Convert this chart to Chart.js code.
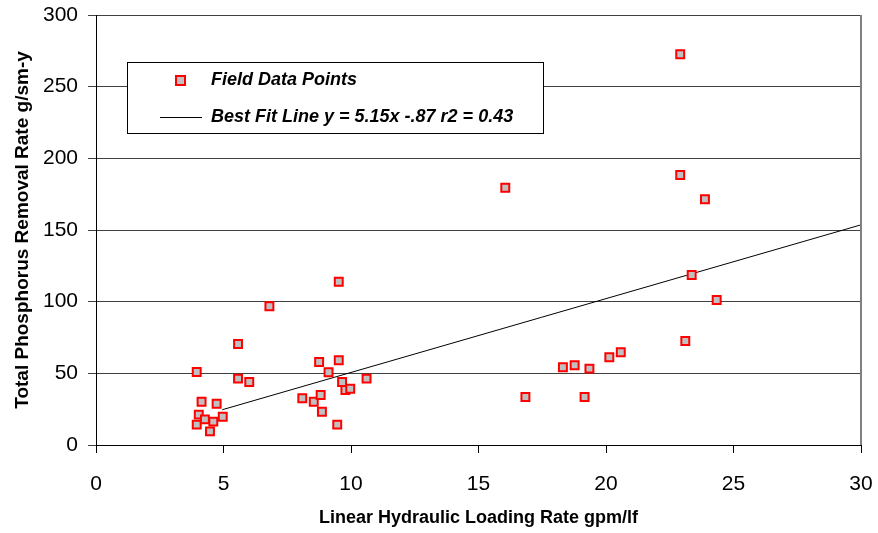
<!DOCTYPE html>
<html>
<head>
<meta charset="utf-8">
<script src="https://cdn.jsdelivr.net/npm/chart.js@4"></script>
<style>
  html, body { margin: 0; padding: 0; background: #fff; }
  #wrap { width: 878px; height: 533px; }
</style>
</head>
<body>
<div id="wrap"><canvas id="chart"></canvas></div>
<script>
// field measurements (x = loading rate gpm/lf, y = TP removal g/sm-y)
const fieldX = [3.95, 4.03, 4.14, 4.27, 4.47, 4.6, 4.73, 4.97, 3.95, 5.57, 5.57, 6.01, 6.8,
                8.09, 8.54, 8.75, 8.81, 8.86, 9.12, 9.46, 9.52, 9.52, 9.65, 9.78, 9.97, 10.61,
                16.05, 16.84, 18.31, 18.77, 19.16, 19.35, 20.13, 20.58,
                22.91, 22.91, 23.11, 23.36, 23.88, 24.34];
const fieldY = [14.2, 21.2, 30.2, 17.9, 9.5, 16.3, 28.8, 19.7, 50.9, 70.5, 46.3, 44, 96.8,
                32.6, 30.2, 57.9, 34.9, 23.2, 50.7, 14.2, 113.9, 59.1, 44, 38.4, 39.3, 46.3,
                179.5, 33.5, 54.2, 55.6, 33.5, 53.3, 61.2, 64.7,
                272.6, 188.4, 72.6, 118.6, 171.4, 101.2];

// best fit line end points
const fitX = [4.95, 30];
const fitY = [24.6, 153.6];

const yTicks = [0, 50, 100, 150, 200, 250, 300];
const xTicks = [0, 5, 10, 15, 20, 25, 30];

const legendLabels = ['Field Data Points', 'Best Fit Line y = 5.15x -.87 r2 = 0.43'];
const xTitle = 'Linear Hydraulic Loading Rate gpm/lf';
const yTitle = 'Total Phosphorus Removal Rate g/sm-y';

const FONT = "'Liberation Sans', Arial, sans-serif";

const boxLegend = {
    id: 'boxLegend',
    afterDraw(chart) {
        const ctx = chart.ctx;
        const area = chart.chartArea;
        ctx.save();
        // right frame of plot
        ctx.strokeStyle = '#808080';
        ctx.lineWidth = 2;
        ctx.beginPath();
        ctx.moveTo(area.right, area.top);
        ctx.lineTo(area.right, area.bottom);
        ctx.stroke();

        // legend box
        ctx.fillStyle = '#fff';
        ctx.fillRect(127, 62, 416, 71);
        ctx.strokeStyle = '#000';
        ctx.lineWidth = 1;
        ctx.strokeRect(127.5, 62.5, 416, 71);

        ctx.fillStyle = '#c0c0c0';
        ctx.fillRect(176, 76, 9, 9);
        ctx.strokeStyle = '#ff0000';
        ctx.lineWidth = 2;
        ctx.strokeRect(176, 76, 9, 9);

        ctx.strokeStyle = '#000';
        ctx.lineWidth = 1;
        ctx.beginPath();
        ctx.moveTo(160, 117.5);
        ctx.lineTo(202, 117.5);
        ctx.stroke();

        ctx.fillStyle = '#000';
        ctx.font = 'italic bold 18px ' + FONT;
        ctx.textBaseline = 'middle';
        ctx.fillText(legendLabels[0], 211, 80);
        ctx.fillText(legendLabels[1], 211, 117);
        ctx.restore();
    }
};

new Chart(document.getElementById('chart'), {
    type: 'scatter',
    data: {
        datasets: [{
            label: legendLabels[0],
            data: fieldX.map((x, i) => ({ x: x, y: fieldY[i] })),
            pointStyle: 'rect',
            pointRadius: 5.6,
            pointHoverRadius: 5.6,
            backgroundColor: '#c0c0c0',
            borderColor: '#ff0000',
            borderWidth: 2
        }, {
            type: 'line',
            label: legendLabels[1],
            data: fitX.map((x, i) => ({ x: x, y: fitY[i] })),
            borderColor: '#000',
            borderWidth: 1,
            pointRadius: 0,
            fill: false
        }]
    },
    options: {
        responsive: true,
        maintainAspectRatio: false,
        animation: false,
        layout: { padding: { top: 15, right: 17, left: 0, bottom: 0 } },
        plugins: {
            legend: { display: false },
            tooltip: { enabled: false }
        },
        scales: {
            x: {
                type: 'linear',
                min: 0,
                max: 30,
                afterBuildTicks: axis => { axis.ticks = xTicks.map(v => ({ value: v })); },
                afterFit: axis => {
                    axis.height = 88;
                    axis.paddingLeft = 0;
                    axis.paddingRight = 0;
                },
                grid: {
                    drawOnChartArea: false,
                    drawTicks: true,
                    tickLength: 8,
                    color: '#000'
                },
                border: { color: '#000', width: 1 },
                ticks: {
                    color: '#000',
                    padding: 19,
                    font: { family: FONT, size: 21 }
                },
                title: {
                    display: true,
                    text: xTitle,
                    color: '#000',
                    font: { family: FONT, size: 18, weight: 'bold' },
                    padding: { top: 8, bottom: 4 }
                }
            },
            y: {
                type: 'linear',
                min: 0,
                max: 300,
                afterBuildTicks: axis => { axis.ticks = yTicks.map(v => ({ value: v })); },
                afterFit: axis => {
                    axis.width = 96;
                    axis.paddingTop = 0;
                    axis.paddingBottom = 0;
                },
                grid: {
                    drawOnChartArea: true,
                    drawTicks: true,
                    tickLength: 8,
                    color: '#404040'
                },
                border: { color: '#000', width: 1 },
                ticks: {
                    color: '#000',
                    padding: 10,
                    font: { family: FONT, size: 21 }
                },
                title: {
                    display: true,
                    text: yTitle,
                    color: '#000',
                    font: { family: FONT, size: 19, weight: 'bold' },
                    padding: { top: 11, bottom: 4 }
                }
            }
        }
    },
    plugins: [boxLegend]
});
</script>
</body>
</html>
